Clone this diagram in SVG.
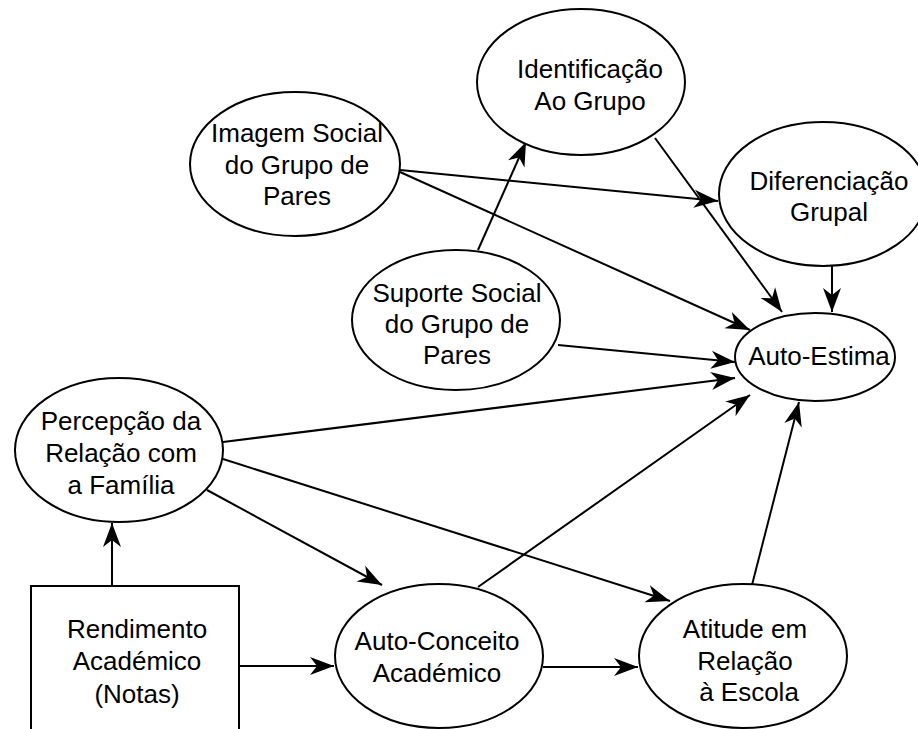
<svg xmlns="http://www.w3.org/2000/svg" width="918" height="729" viewBox="0 0 918 729">
<style>
.n{fill:#fff;stroke:#000;stroke-width:2}
.t{font-family:"Liberation Sans",Arial,sans-serif;font-size:26px;fill:#000;text-anchor:middle}
.c line{stroke:#000;stroke-width:2;marker-end:url(#ah)}
</style>
<defs>
<marker id="ah" markerUnits="userSpaceOnUse" markerWidth="28" markerHeight="22" viewBox="-26 -11 28 22" refX="0" refY="0" orient="auto">
<path d="M0,0 L-24,-9 L-17,0 L-24,9 Z" fill="#000"/>
</marker>
</defs>
<rect width="918" height="729" fill="#fff"/>
<g id="connectors" class="c">
<line x1="112" y1="586" x2="112" y2="523"/>
<line x1="239" y1="666" x2="334" y2="666"/>
<line x1="543" y1="667" x2="638" y2="667"/>
<line x1="223" y1="442" x2="735" y2="378"/>
<line x1="223" y1="459" x2="670" y2="601"/>
<line x1="207" y1="490" x2="382" y2="585"/>
<line x1="478" y1="587" x2="750" y2="395"/>
<line x1="752" y1="585" x2="799" y2="402"/>
<line x1="478" y1="250" x2="526" y2="142"/>
<line x1="558" y1="345" x2="735" y2="362"/>
<line x1="400" y1="170" x2="718" y2="201"/>
<line x1="400" y1="172" x2="750" y2="330"/>
<line x1="655" y1="138" x2="782" y2="312"/>
<line x1="832" y1="265" x2="832" y2="312"/>
</g>
<g id="identificacao"><ellipse class="n" cx="581" cy="82" rx="104" ry="73"/><text class="t" x="590" y="78">Identificação</text><text class="t" x="590" y="110">Ao Grupo</text></g>
<g id="imagem"><ellipse class="n" cx="295" cy="164" rx="105" ry="72"/><text class="t" x="297" y="142">Imagem Social</text><text class="t" x="297" y="174">do Grupo de</text><text class="t" x="297" y="205">Pares</text></g>
<g id="diferenciacao"><ellipse class="n" cx="823" cy="194" rx="104" ry="72"/><text class="t" x="829" y="190">Diferenciação</text><text class="t" x="829" y="221">Grupal</text></g>
<g id="suporte"><ellipse class="n" cx="456" cy="320" rx="104" ry="70"/><text class="t" x="457" y="302">Suporte Social</text><text class="t" x="457" y="333">do Grupo de</text><text class="t" x="457" y="364">Pares</text></g>
<g id="autoestima"><ellipse class="n" cx="815" cy="357" rx="80" ry="44"/><text class="t" x="819" y="365">Auto-Estima</text></g>
<g id="percepcao"><ellipse class="n" cx="119" cy="450" rx="104" ry="72"/><text class="t" x="121" y="430">Percepção da</text><text class="t" x="121" y="462">Relação com</text><text class="t" x="121" y="494">a Família</text></g>
<g id="rendimento"><rect class="n" x="31" y="586" width="208" height="160"/><text class="t" x="137" y="638">Rendimento</text><text class="t" x="137" y="670">Académico</text><text class="t" x="137" y="703">(Notas)</text></g>
<g id="autoconceito"><ellipse class="n" cx="439" cy="656" rx="104" ry="72"/><text class="t" x="437" y="650">Auto-Conceito</text><text class="t" x="437" y="682">Académico</text></g>
<g id="atitude"><ellipse class="n" cx="743" cy="656" rx="104" ry="72"/><text class="t" x="745" y="638">Atitude em</text><text class="t" x="745" y="670">Relação</text><text class="t" x="749" y="701">à Escola</text></g>
</svg>
